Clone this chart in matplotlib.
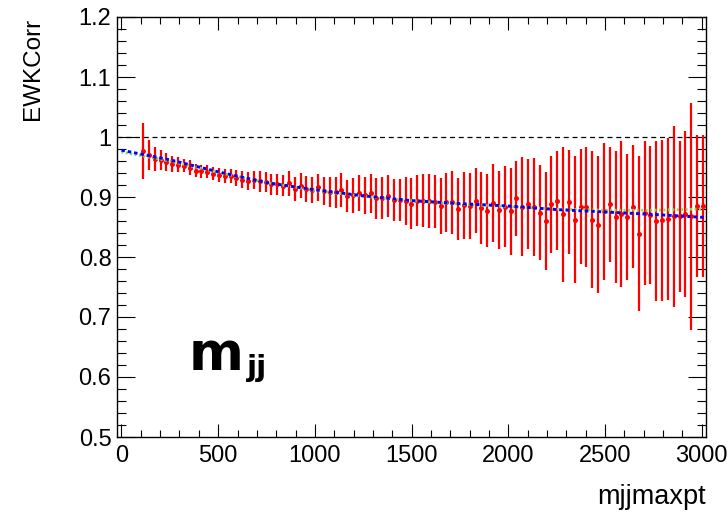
import numpy as np
import matplotlib
matplotlib.use("Agg")
import matplotlib.pyplot as plt
from matplotlib.ticker import MultipleLocator

plt.rcParams['font.family'] = ['Liberation Sans', 'DejaVu Sans']

# --- data ---
ewk_corr = [
    0.977, 0.970, 0.964, 0.962, 0.959, 0.955, 0.954, 0.952, 0.949, 0.944, 0.943, 0.942, 0.939, 0.937, 0.935, 0.935,
    0.932, 0.929, 0.927, 0.928, 0.926, 0.925, 0.921, 0.921, 0.919, 0.923, 0.913, 0.919, 0.913, 0.912, 0.916, 0.910,
    0.909, 0.908, 0.912, 0.902, 0.903,
    0.907, 0.903, 0.906, 0.898, 0.899, 0.901, 0.895, 0.895, 0.893, 0.889, 0.894, 0.894, 0.894, 0.892, 0.885, 0.891,
    0.891, 0.880, 0.886, 0.885, 0.894,
    0.881, 0.877, 0.890, 0.878, 0.884, 0.876, 0.898, 0.884, 0.888, 0.883, 0.874, 0.860, 0.888, 0.894, 0.871, 0.892,
    0.862, 0.884, 0.884, 0.862,
    0.854, 0.876, 0.888, 0.866, 0.872, 0.866, 0.884, 0.839, 0.873, 0.870, 0.860, 0.861, 0.863, 0.868, 0.868, 0.872,
    0.868, 0.885, 0.885,
]
ewk_err = [
    0.047, 0.025, 0.020, 0.017, 0.015, 0.013, 0.012, 0.011, 0.012, 0.011, 0.011, 0.011, 0.011, 0.012, 0.012, 0.012,
    0.013, 0.014, 0.015, 0.015, 0.017, 0.017, 0.017, 0.018, 0.018, 0.021, 0.020, 0.021, 0.022, 0.022, 0.022, 0.024,
    0.025, 0.026, 0.028, 0.027, 0.029,
    0.030, 0.031, 0.033, 0.034, 0.035, 0.035, 0.035, 0.035, 0.040, 0.042, 0.042, 0.044, 0.045, 0.044, 0.047, 0.049,
    0.052, 0.052, 0.056, 0.055, 0.054,
    0.060, 0.061, 0.065, 0.065, 0.068, 0.072, 0.0625, 0.082, 0.075, 0.082, 0.079, 0.081, 0.081, 0.083, 0.112, 0.087,
    0.106, 0.096, 0.100, 0.114,
    0.114, 0.114, 0.096, 0.110, 0.122, 0.105, 0.103, 0.129, 0.120, 0.115, 0.133, 0.134, 0.135, 0.151, 0.126, 0.138,
    0.189, 0.119, 0.119,
]
bin_start = 112
bin_width = 30.15
bin_centers = bin_start + bin_width * np.arange(len(ewk_corr))

fit_x = [0, 250, 500, 750, 1000, 1250, 1500, 1750, 2000, 2250, 2500, 2750, 3010]
fit_blue = [0.978, 0.962, 0.942, 0.924, 0.912, 0.902, 0.894, 0.889, 0.885, 0.879, 0.875, 0.871, 0.866]
fit_green = [0.975, 0.960, 0.941, 0.924, 0.911, 0.901, 0.894, 0.888, 0.884, 0.880, 0.878, 0.878, 0.880]

x_label = "mjjmaxpt"
y_label = "EWKCorr"

# --- figure ---
W, H = 727, 517
fig = plt.figure(figsize=(W / 100, H / 100), dpi=100)
ax = fig.add_axes([117 / W, 80 / H, 589 / W, 420 / H])

ax.errorbar(bin_centers, ewk_corr, yerr=ewk_err, fmt='o', color='#ff0000',
            ms=3.6, mew=0, elinewidth=1.6, capsize=0, zorder=3)
ax.plot(fit_x, fit_green, color='#7fdc5a', lw=2.0, dashes=(0.7, 0.9), zorder=4)
ax.plot(fit_x, fit_blue, color='#0000ff', lw=2.1, dashes=(1.2, 1.0), zorder=5)
ax.axhline(1.0, color='black', lw=0.9, dashes=(4, 3), zorder=2)

ax.set_xlim(-23, 3022)
ax.set_ylim(0.5, 1.2)

ax.xaxis.set_major_locator(MultipleLocator(500))
ax.xaxis.set_minor_locator(MultipleLocator(100))
ax.yaxis.set_major_locator(MultipleLocator(0.1))
ax.yaxis.set_minor_locator(MultipleLocator(0.02))
ax.yaxis.set_major_formatter(plt.FuncFormatter(lambda v, p: ('%g' % round(v, 2))))

for sp in ax.spines.values():
    sp.set_linewidth(1.0)
ax.tick_params(which='both', direction='in', top=True, right=True, width=0.8, labelsize=17)
ax.tick_params(axis='x', which='major', length=9.5, pad=6)
ax.tick_params(axis='x', which='minor', length=5)
ax.tick_params(axis='y', which='major', length=13, pad=4)
ax.tick_params(axis='y', which='minor', length=6.5)

fig.text(33 / W, 1 - 18 / H, y_label, rotation=90, ha='center', va='top', fontsize=17.5)
fig.text(706 / W, 1 - 497 / H, x_label, ha='right', va='center', fontsize=19.5)

ax.text(0.122, 0.160, 'm', transform=ax.transAxes, fontsize=38, fontweight='bold',
        family='DejaVu Sans', ha='left', va='baseline')
ax.text(0.220, 0.146, 'jj', transform=ax.transAxes, fontsize=21, fontweight='bold',
        family='DejaVu Sans', ha='left', va='baseline')

fig.savefig('out.png', dpi=100)
